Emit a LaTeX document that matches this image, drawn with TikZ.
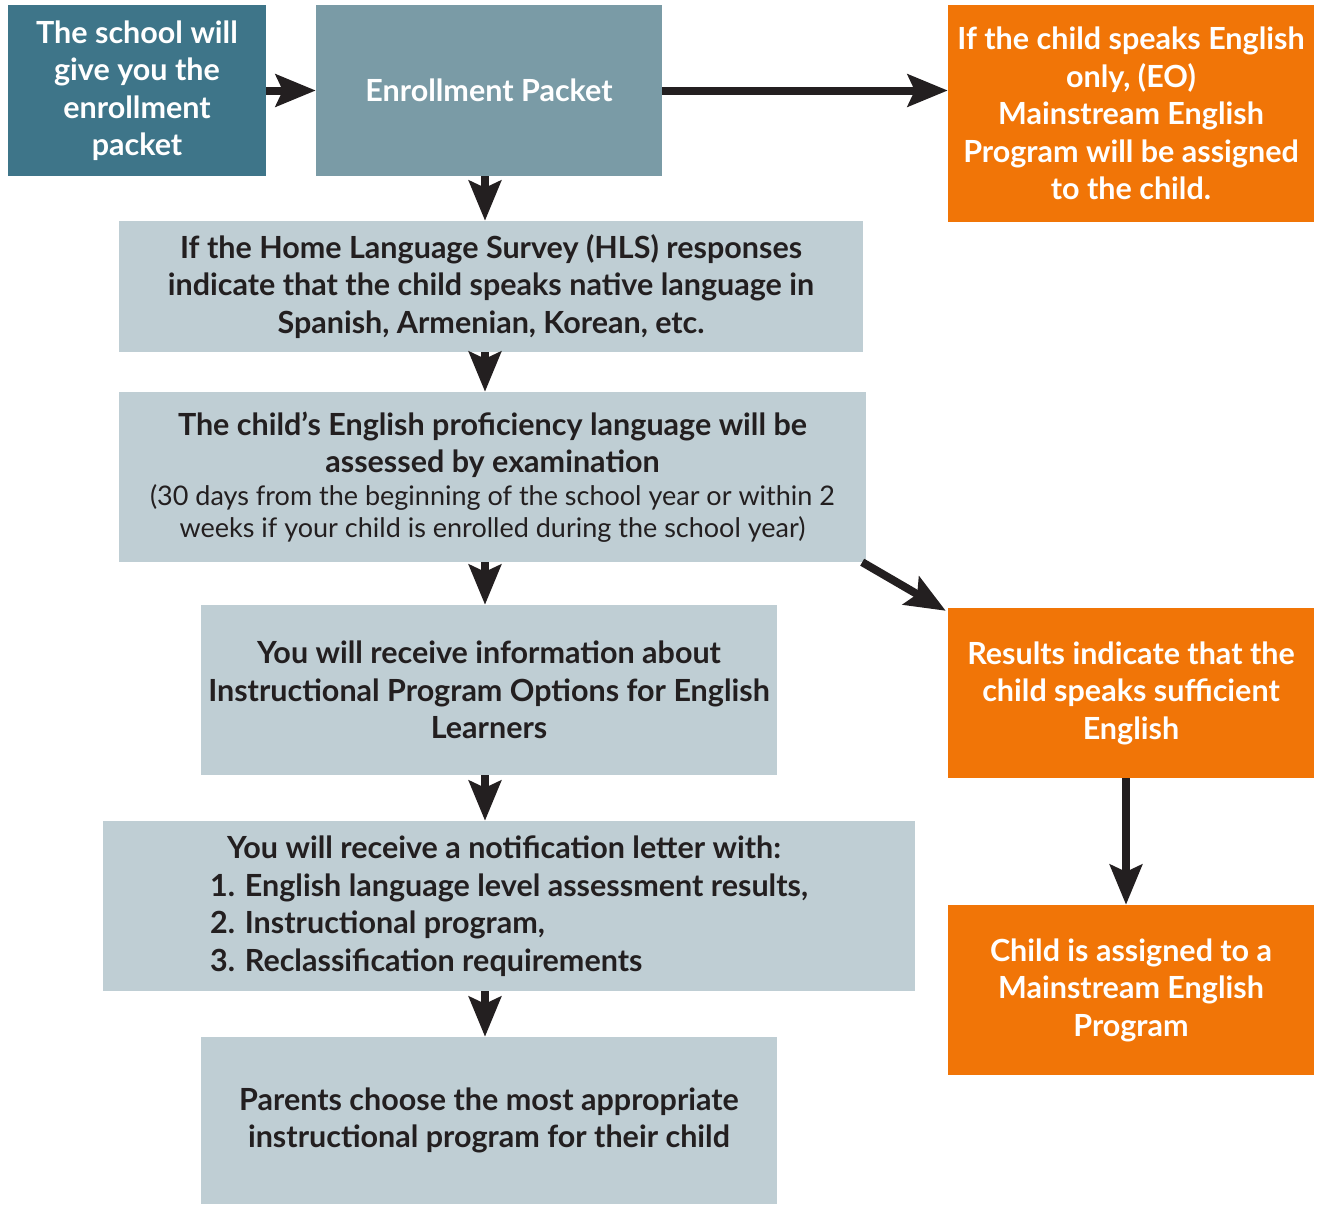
\documentclass[tikz,border=0pt]{standalone}
\usepackage{fontspec}
\setmainfont{Lato}
\usetikzlibrary{arrows.meta}

\definecolor{darkteal}{RGB}{62,117,137}
\definecolor{midteal}{RGB}{122,155,166}
\definecolor{paleteal}{RGB}{191,206,212}
\definecolor{flowing}{RGB}{241,117,7}
\definecolor{inkblack}{RGB}{35,31,32}

\newcommand{\smalltxt}{\fontsize{27}{32}\selectfont\mdseries}

\tikzset{
	box/.style={rectangle, inner sep=0pt, align=center, font=\fontsize{30.5}{37.5}\selectfont\bfseries},
	darkbox/.style={box, fill=darkteal, text=white},
	midbox/.style={box, fill=midteal, text=white},
	palebox/.style={box, fill=paleteal, text=inkblack},
	orangebox/.style={box, fill=flowing, text=white},
	flow/.style={draw=inkblack, line width=8pt, -{Stealth[length=40pt,width=32pt,inset=7pt]}}
}

\begin{document}
\begin{tikzpicture}[x=1pt, y=-1pt]
	\useasboundingbox (0,0) rectangle (1322,1205);

	%top row
	\node[darkbox, minimum width=258pt, minimum height=171pt] (school) at (137,90.5)
		{The school will\\give you the\\enrollment\\packet};
	\node[midbox, minimum width=346pt, minimum height=171pt] (packet) at (489,90.5)
		{Enrollment Packet};
	\node[orangebox, minimum width=366pt, minimum height=217pt] (eo) at (1131,113.5)
		{If the child speaks English\\only, (EO)\\Mainstream English\\Program will be assigned\\to the child.};

	%main column
	\node[palebox, minimum width=744pt, minimum height=131pt] (hls) at (491,286.5)
		{If the Home Language Survey (HLS) responses\\indicate that the child speaks native language in\\Spanish, Armenian, Korean, etc.};
	\node[palebox, minimum width=747pt, minimum height=170pt] (exam) at (492.5,477)
		{The child’s English proficiency language will be\\assessed by examination\\[-5pt]
		\smalltxt (30 days from the beginning of the school year or within 2\\[-5pt]
		\smalltxt weeks if your child is enrolled during the school year)};
	\node[palebox, minimum width=576pt, minimum height=170pt] (info) at (489,690)
		{You will receive information about\\Instructional Program Options for English\\Learners};
	\node[palebox, minimum width=812pt, minimum height=170pt, align=left] (letter) at (509,906)
		{\hspace{17pt}You will receive a notification letter with:\\1. English language level assessment results,\\2. Instructional program,\\3. Reclassification requirements};
	\node[palebox, minimum width=576pt, minimum height=167pt] (parents) at (489,1120.5)
		{Parents choose the most appropriate\\instructional program for their child};

	%right column
	\node[orangebox, minimum width=366pt, minimum height=170pt] (results) at (1131,693)
		{Results indicate that the\\child speaks sufficient\\English};
	\node[orangebox, minimum width=366pt, minimum height=170pt] (assigned) at (1131,990)
		{Child is assigned to a\\Mainstream English\\Program};

	%arrows
	\draw[flow] (school.east) -- (packet.west);
	\draw[flow] (packet.east) -- (packet.east -| eo.west);
	\draw[flow] ([xshift=-4pt]packet.south) -- ([xshift=-4pt]packet.south |- hls.north);
	\draw[flow] ([xshift=-4pt]packet.south |- hls.south) -- ([xshift=-4pt]packet.south |- exam.north);
	\draw[flow] ([xshift=-4pt]packet.south |- exam.south) -- ([xshift=-4pt]packet.south |- info.north);
	\draw[flow] ([xshift=-4pt]packet.south |- info.south) -- ([xshift=-4pt]packet.south |- letter.north);
	\draw[flow] ([xshift=-4pt]packet.south |- letter.south) -- ([xshift=-4pt]packet.south |- parents.north);
	\draw[flow] ([xshift=-4pt]exam.south east) -- ([shift={(-2pt,-3pt)}]results.north west);
	\draw[flow] ([xshift=-5pt]results.south) -- ([xshift=-5pt]assigned.north);
\end{tikzpicture}
\end{document}
